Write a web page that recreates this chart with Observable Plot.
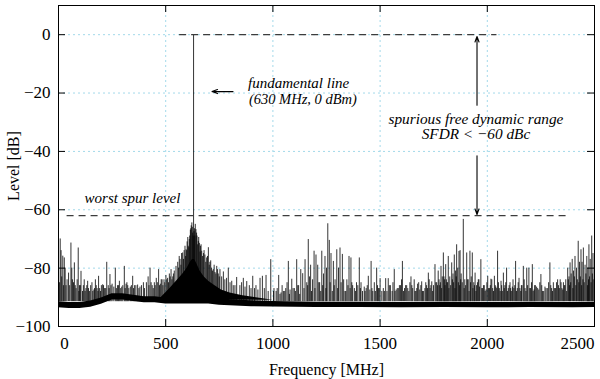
<!DOCTYPE html>
<html><head><meta charset="utf-8">
<script src="https://cdn.jsdelivr.net/npm/d3@7"></script>
<script src="https://cdn.jsdelivr.net/npm/@observablehq/plot@0.6"></script>
<style>body{margin:0;background:#fff;}#chart{width:600px;height:379px;}</style>
</head><body><div id="chart"></div>
<script>
// ---- data ----
const xTicks = [0, 500, 1000, 1500, 2000, 2500];
const yTicks = [-100, -80, -60, -40, -20, 0];
const gridX = [500, 1000, 1500, 2000];
const gridY = [-80, -60, -40, -20, 0];

// noise floor band (MHz, upper dB, lower dB)
const floorFreq = [0, 50, 100, 150, 200, 250, 300, 350, 400, 450, 500, 550, 600, 650, 700, 750, 800, 900, 1000, 1200, 1400, 1600, 1800, 2000, 2200, 2400, 2500];
const floorHi = [-91.5, -91.8, -91.8, -91.3, -90.2, -88.8, -88.8, -89.3, -89.8, -89.8, -90.2, -89.8, -88.5, -88.5, -89.3, -90.2, -90.8, -91.2, -91.4, -91.7, -91.7, -91.8, -91.7, -91.8, -91.7, -91.8, -91.7];
const floorLo = [-93.6, -93.8, -93.8, -93.4, -92.4, -90.9, -90.9, -91.4, -91.9, -91.9, -92.3, -92.3, -92.3, -92.3, -92.3, -92.7, -92.9, -93.2, -93.3, -93.5, -93.5, -93.6, -93.5, -93.6, -93.5, -93.6, -93.5];

// dense skirt around the carrier
const skirtFreq = [480, 520, 550, 580, 600, 615, 625, 635, 645, 660, 680, 700, 730, 760, 800, 860, 930, 1000];
const skirtTop = [-90, -87, -84.5, -82, -80, -78, -77, -77, -78.5, -81, -83, -84.5, -86, -87.5, -88.5, -89.5, -90.2, -91];

// spectral lines (MHz, dB)
const spurFreq = [8, 12, 20, 27, 35, 47, 58, 65, 74, 82, 92, 98, 105, 112, 120, 128, 136, 145, 156, 165, 172, 180, 187, 196, 206, 215, 225, 232, 240, 250, 258, 265, 275, 284, 295, 307, 315, 323, 335, 346, 355, 369, 380, 396, 410, 418, 427, 437, 447, 456, 467, 475, 483, 492, 501, 509, 517, 525, 533, 540, 548, 556, 567, 579, 586, 595, 600, 605, 610, 615, 619, 622, 626,
  630,
  634, 638, 641, 646, 652, 657, 662, 668, 676, 683, 691, 699, 706, 714, 722, 730, 738, 745, 753, 761, 769, 776, 784, 792, 800, 808, 815, 823, 831, 846, 854, 862, 870, 878, 890, 898, 906, 914, 921, 930, 940, 951, 960, 968, 978, 990, 1005, 1015, 1027, 1038, 1049, 1060, 1072, 1080, 1088, 1100, 1111, 1120, 1130, 1139, 1150, 1158, 1165, 1171, 1176, 1185, 1192, 1201, 1209, 1218, 1228, 1236, 1243, 1250, 1256, 1263, 1271, 1282, 1290, 1298, 1306, 1313, 1324, 1330, 1336, 1345, 1355, 1364, 1372, 1380, 1390, 1403, 1411, 1418, 1426, 1435, 1445, 1452, 1458, 1466, 1473, 1484, 1492, 1500, 1508, 1515, 1526, 1532, 1538, 1548, 1556, 1566, 1575, 1585, 1595, 1604, 1614, 1624, 1634, 1644, 1652, 1659, 1667, 1675, 1685, 1694, 1702, 1709, 1717, 1725, 1733, 1741, 1749, 1756, 1764, 1771, 1778, 1784, 1790, 1795, 1800, 1806, 1812, 1818, 1825, 1834, 1840, 1846, 1852, 1857, 1862, 1868, 1873, 1878, 1888, 1895, 1904, 1911, 1919, 1925, 1930, 1937, 1943, 1950, 1958, 1964, 1970, 1978, 1986, 1994, 2002, 2010, 2017, 2025, 2033, 2040, 2048, 2056, 2064, 2070, 2075, 2082, 2090, 2098, 2106, 2112, 2117, 2124, 2132, 2140, 2148, 2156, 2162, 2168, 2176, 2184, 2194, 2202, 2210, 2218, 2224, 2230, 2240, 2250, 2258, 2269, 2280, 2292, 2300, 2308, 2318, 2328, 2336, 2344, 2352, 2359, 2366, 2375, 2381, 2386, 2391, 2396, 2402, 2409, 2416, 2424, 2430, 2437, 2442, 2448, 2456, 2464, 2469, 2474, 2480, 2487, 2493];
const spurLevel = [-70, -74, -75.9, -76.5, -86, -81.7, -71.4, -84, -78.2, -87, -73.1, -86, -81.1, -88, -84, -87, -84.5, -88, -85, -87.5, -84, -87, -82.8, -88, -85.7, -87, -78, -86, -82.2, -85.5, -86.5, -80, -86, -84.5, -86.5, -79.4, -85.5, -86, -86.5, -82.8, -86, -85.8, -86.5, -85, -85, -83, -80, -86, -85, -83.5, -80.5, -85.5, -84, -84, -82.5, -83.5, -82, -80.5, -83, -81, -79.4, -78, -77, -74.8, -74, -73.7, -71, -72.5, -70.2, -67, -65.5, -64.5, -68,
  0,
  -66.5, -65, -66.8, -69, -70.8, -71.5, -72.5, -74.2, -75, -75.5, -76.5, -73, -78, -80, -80.5, -81.5, -79.4, -82, -80.5, -83, -81.3, -84, -83.5, -80, -85, -84.5, -86, -86, -83.2, -86, -85, -83.5, -86.5, -84.6, -86, -87, -82.8, -87, -86, -87.5, -83.5, -82.8, -87, -82.5, -88, -77.1, -87, -88, -82.5, -88.5, -88, -87, -77.7, -87.5, -83.8, -87, -77.1, -86, -80.5, -81.9, -77.1, -85, -70.2, -83, -79, -84, -74.2, -75.5, -79, -85, -74.2, -82, -76, -80, -64.8, -70.5, -75, -77.7, -84, -73.7, -80, -73.1, -75.3, -84, -88, -84, -76, -76.5, -86, -87, -85, -76.5, -85, -88, -86.5, -87, -82.8, -87.5, -77.7, -88, -85, -80, -87, -83.6, -88, -87, -83.6, -88, -83.6, -86, -88, -80.5, -87.5, -87, -86, -77.7, -87, -86, -88, -83, -87, -84, -88, -85.5, -87.5, -84.7, -88, -87, -86, -81.7, -87, -84.7, -86, -78.8, -85, -81, -86, -79.4, -83, -74.8, -84, -78.8, -85, -76, -83, -78.2, -82, -75.5, -81, -72, -80, -74.3, -74, -82, -63.3, -84, -74.8, -84, -74.2, -83, -74.8, -85, -81.7, -86, -84, -86.5, -77.1, -87, -86, -87.5, -82.8, -87, -83.8, -87, -82.8, -86.5, -74.2, -87, -84.5, -88, -81.7, -86, -80, -87, -85, -88, -86.5, -87, -77.7, -87, -83.5, -88, -86, -79.4, -87, -80, -80, -87, -78.8, -87.5, -86, -86.5, -87.5, -82.2, -88, -86.5, -87, -78.2, -87, -85, -87, -84, -87, -85, -87.5, -86, -84, -80, -83, -78.2, -82, -77, -81, -76, -80, -70.8, -78, -73.7, -78, -73.1, -79, -76, -80, -72, -77, -69, -75];

// extra lines in the carrier skirt
const skirtSpurFreq = [560, 563, 571, 574, 583, 590, 593, 598, 603, 608, 612, 617, 624, 628, 632, 636, 644, 649, 654, 660, 665, 672, 679, 687, 695, 703, 710, 718, 726, 734, 742, 750];
const skirtSpurLevel = [-80, -76, -79, -75, -77, -72.5, -76, -74, -69.5, -73, -69, -66.5, -66, -69, -67.5, -69, -68, -72, -69.5, -74.5, -72, -76, -74, -78, -76, -79, -77.5, -81, -79, -82, -80.5, -83];

// low "grass" lines
const grassFreq = [5, 15, 23, 31, 40, 52, 62, 70, 78, 87, 95, 102, 116, 124, 132, 140, 150, 160, 168, 176, 184, 192, 200, 210, 220, 236, 245, 270, 280, 290, 300, 311, 319, 328, 340, 350, 361, 375, 387, 401, 422, 432, 442, 451, 461, 471, 479, 487, 496, 505, 513, 521, 529, 536,
  1003, 1020, 1033, 1043, 1055, 1066, 1077, 1094, 1105, 1116, 1125, 1145, 1162, 1180, 1196, 1214, 1223, 1232, 1247, 1267, 1277, 1286, 1302, 1318, 1340, 1350, 1360, 1368, 1385, 1396, 1408, 1430, 1440, 1462, 1478, 1488, 1496, 1520, 1543, 1560, 1570, 1580, 1590, 1600, 1609, 1619, 1629, 1639, 1648, 1663, 1671, 1680, 1690, 1698, 1713, 1721, 1729, 1737, 1745, 1760, 1768, 1775, 1781, 1787, 1798, 1803, 1809, 1815, 1821, 1829, 1837, 1843, 1849, 1855, 1865, 1871, 1876, 1883, 1892, 1899, 1907, 1915, 1922, 1933, 1940, 1947, 1954, 1961, 1974, 1982, 1990, 1998, 2006, 2014, 2021, 2029, 2037, 2044, 2052, 2060, 2067, 2079, 2086, 2094, 2102, 2109, 2120, 2128, 2136, 2144, 2152, 2159, 2172, 2180, 2188, 2198, 2206, 2214, 2221, 2235, 2245, 2254, 2263, 2274, 2286, 2296, 2304, 2313, 2323, 2332, 2340, 2348, 2355, 2362, 2370, 2378, 2384, 2389, 2399, 2406, 2413, 2420, 2427, 2434, 2440, 2446, 2452, 2460, 2467, 2472, 2477, 2484, 2490, 2497];
const grassLevel = [-85, -83, -86, -80, -84, -86, -80, -85, -86, -84, -88, -86, -86, -88, -86, -87, -86, -88, -87, -86, -88, -87, -86, -86, -87, -87, -86, -87, -86, -87, -86, -87, -85, -87, -86, -87, -86, -87, -86, -87, -86, -85, -87, -86, -85, -86, -84, -86, -85, -84, -85, -83, -84, -82,
  -88, -87, -89, -86, -88, -85, -89, -87, -88, -86, -89, -87, -86, -88, -87, -85, -88, -86, -87, -85, -88, -86, -87, -85, -88, -86, -87, -85, -88, -86, -87, -88, -86, -87, -88, -86, -87, -88, -86, -85, -88, -87, -86, -84, -88, -86, -87, -85, -86, -88, -87, -85, -86, -88, -85, -87, -84, -86, -88, -85, -86, -84, -85, -87, -83, -86, -84, -85, -87, -86, -84, -85, -87, -83, -85, -86, -84, -85, -87, -86, -84, -88, -85, -87, -86, -88, -85, -84, -87, -86, -88, -85, -87, -86, -84, -88, -86, -87, -85, -88, -86, -87, -85, -88, -86, -87, -84, -86, -88, -85, -87, -86, -84, -88, -86, -87, -85, -88, -86, -87, -85, -86, -88, -87, -85, -86, -88, -87, -85, -86, -84, -87, -85, -86, -88, -84, -86, -85, -87, -83, -86, -84, -85, -83, -86, -84, -85, -82, -86, -84, -83, -85, -82, -84, -83, -85];

// annotations
const refLevel = 0, spurLimit = -62;
const refLineFreq = [565, 2045];
const spurLineFreq = [40, 2385];
const sfdrFreq = 1952;
const annText = ["fundamental line", "(630 MHz, 0 dBm)", "spurious free dynamic range", "SFDR < \u221260 dBc", "worst spur level"];
const annFreq = [884, 888, 1947, 1947, 345];
const annLevel = [-16.5, -22, -28.9, -34.2, -56];
const annAnchor = ["start", "start", "middle", "middle", "middle"];
const annSize = [15, 14.5, 15.3, 15.3, 15];

// ---- build ----
const W = 600, H = 379, mL = 58, mR = 6, mT = 5, mB = 53;
const pw = W - mL - mR, ph = H - mT - mB, tk = 7;
const serif = '"Liberation Serif", "Times New Roman", Times, serif';
const floor = floorFreq.map((f, i) => ({f, hi: floorHi[i], lo: floorLo[i]}));
const skirt = skirtFreq.map((f, i) => ({f, top: skirtTop[i]}));
const spurs = spurFreq.map((f, i) => ({f, L: spurLevel[i]}))
  .concat(skirtSpurFreq.map((f, i) => ({f, L: skirtSpurLevel[i]})))
  .concat(grassFreq.map((f, i) => ({f, L: grassLevel[i]})));
const ann = annText.map((t, i) => ({t, f: annFreq[i], L: annLevel[i], a: annAnchor[i], s: annSize[i]}));
const fmt = d => (d < 0 ? "\u2212" + Math.abs(d) : String(d));
const dash = "#3c3c3c";
const gridColor = "#a3d9ea";
const ax = {tickSize: 0, tickFormat: fmt, fontSize: 17, fontFamily: serif};

const annMarks = annText.map((t, i) =>
  Plot.text([ann[i]], {x: "f", y: "L", text: "t", textAnchor: ann[i].a, fontStyle: "italic", fontFamily: serif, fontSize: ann[i].s}));

const chart = Plot.plot({
  width: W, height: H,
  marginLeft: mL, marginRight: mR, marginTop: mT, marginBottom: mB,
  style: {fontFamily: serif, fontSize: "16px", background: "white", color: "black"},
  x: {domain: [0, 2500]},
  y: {domain: [-100, 10]},
  marks: [
    Plot.ruleX(gridX, {stroke: gridColor, strokeDasharray: "2,3"}),
    Plot.ruleY(gridY, {stroke: gridColor, strokeDasharray: "2,3"}),
    Plot.areaY(floor, {x: "f", y1: "lo", y2: "hi", fill: "black"}),
    Plot.areaY(skirt, {x: "f", y1: -91, y2: "top", fill: "black"}),
    Plot.ruleX(spurs, {x: "f", y1: -91.5, y2: "L", stroke: "black", strokeWidth: 0.8}),
    Plot.ruleY([refLevel], {x1: refLineFreq[0], x2: refLineFreq[1], stroke: dash, strokeWidth: 1.2, strokeDasharray: "7,5"}),
    Plot.ruleY([spurLimit], {x1: spurLineFreq[0], x2: spurLineFreq[1], stroke: dash, strokeWidth: 1.2, strokeDasharray: "7,5"}),
    Plot.arrow([{x1: 814, x2: 716, y: -19.5}], {x1: "x1", x2: "x2", y1: "y", y2: "y", stroke: "black", strokeWidth: 1.1, headLength: 8, headAngle: 40}),
    Plot.arrow([{y1: -24.2, y2: -0.6}, {y1: -41.5, y2: -61.6}], {x1: sfdrFreq, x2: sfdrFreq, y1: "y1", y2: "y2", stroke: "black", strokeWidth: 1.1, headLength: 8, headAngle: 40}),
    ...annMarks,
    // inward ticks on all four sides
    Plot.ruleX(gridX, {stroke: "black", insetTop: ph - tk}),
    Plot.ruleX(gridX, {stroke: "black", insetBottom: ph - tk}),
    Plot.ruleY(gridY, {stroke: "black", insetRight: pw - tk}),
    Plot.ruleY(gridY, {stroke: "black", insetLeft: pw - tk}),
    Plot.frame({stroke: "black"}),
    Plot.axisY(yTicks, {...ax, tickPadding: 8, label: "Level [dB]", labelAnchor: "center", labelOffset: 51, labelArrow: "none"}),
    Plot.axisX(xTicks.slice(1, -1), {...ax, tickPadding: 10, label: "Frequency [MHz]", labelAnchor: "center", labelOffset: 48, labelArrow: "none"}),
    Plot.axisX(xTicks.slice(0, 1), {...ax, tickPadding: 10, dx: 6, label: null}),
    Plot.axisX(xTicks.slice(-1), {...ax, tickPadding: 10, dx: -17, label: null})
  ]
});
chart.querySelectorAll("text").forEach(t => t.style.fontFamily = serif);
chart.querySelectorAll("[aria-label='y-axis label'] text, [aria-label='x-axis label'] text").forEach(t => t.setAttribute("font-size", 16));
document.getElementById("chart").appendChild(chart);
</script>
</body></html>
